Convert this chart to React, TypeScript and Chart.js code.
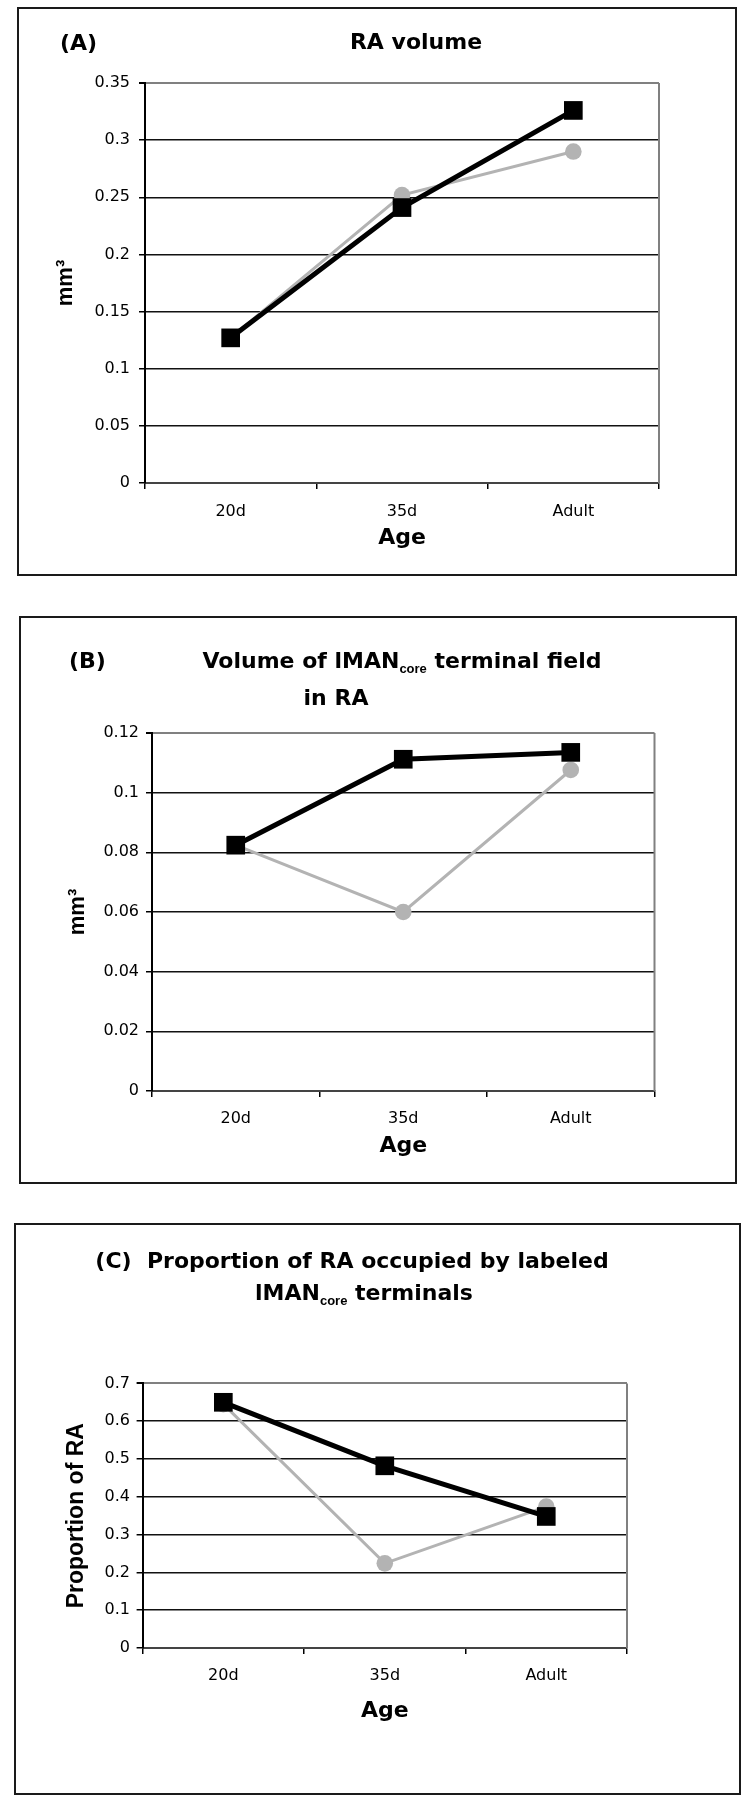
import React, { useEffect, useRef } from "react";
import { Chart, registerables } from "chart.js";

Chart.register(...registerables);

// ---------------- data ----------------
const ageCategories = ["20d", "35d", "Adult"];

const raVolumeBlack = [0.127, 0.241, 0.326];
const raVolumeGrey = [0.127, 0.252, 0.29];
const raVolumeTicks = [0, 0.05, 0.1, 0.15, 0.2, 0.25, 0.3, 0.35];
const raVolumeTickLabels = ["0", "0.05", "0.1", "0.15", "0.2", "0.25", "0.3", "0.35"];

const fieldVolumeBlack = [0.0824, 0.1112, 0.1135];
const fieldVolumeGrey = [0.0824, 0.06, 0.1076];
const fieldVolumeTicks = [0, 0.02, 0.04, 0.06, 0.08, 0.1, 0.12];
const fieldVolumeTickLabels = ["0", "0.02", "0.04", "0.06", "0.08", "0.1", "0.12"];

const proportionBlack = [0.65, 0.482, 0.348];
const proportionGrey = [0.645, 0.224, 0.374];
const proportionTicks = [0, 0.1, 0.2, 0.3, 0.4, 0.5, 0.6, 0.7];
const proportionTickLabels = ["0", "0.1", "0.2", "0.3", "0.4", "0.5", "0.6", "0.7"];

// ---------------- styling ----------------
const SANS = "'DejaVu Sans', 'Liberation Sans', sans-serif";
const ARIAL = "'Liberation Sans', Arial, sans-serif";
const BLACK = "#000000";
const GREY = "#b3b3b3";
const FRAME_GREY = "#808080";

const plotFramePlugin = {
  id: "plotFrame",
  beforeDatasetsDraw(chart: any) {
    const { ctx, chartArea: a } = chart;
    ctx.save();
    ctx.strokeStyle = FRAME_GREY;
    ctx.lineWidth = 2;
    ctx.beginPath();
    ctx.moveTo(a.right, a.top);
    ctx.lineTo(a.right, a.bottom);
    ctx.stroke();
    ctx.restore();
  },
};

type TitleLine = { text: React.ReactNode; x: number; y: number; align: "left" | "center" };

type PanelSpec = {
  box: { left: number; top: number; width: number; height: number };
  plot: { left: number; top: number; right: number; bottom: number };
  yTickPad: number;
  yTitleCenterX: number;
  yTitle: string;
  yTitleSize: number;
  xTickCenterY: number;
  ageCenterY: number;
  blackValues: number[];
  greyValues: number[];
  ticks: number[];
  tickLabels: string[];
  titles: TitleLine[];
};

function Panel({ spec }: { spec: PanelSpec }) {
  const ref = useRef<HTMLCanvasElement>(null);
  const { box, plot } = spec;

  useEffect(() => {
    const canvas = ref.current;
    if (!canvas) return;
    const cl = plot.left - box.left;
    const cr = plot.right - box.left;
    const ct = plot.top - box.top;
    const cb = plot.bottom - box.top;
    const yWidth = cl;
    const xHeight = box.height - cb;
    const tickLen = 6;
    const tickFontSize = 16;
    const tickLH = tickFontSize * 1.2;
    const xTickPad = spec.xTickCenterY - box.top - cb - tickLen - tickLH / 2;
    const ageLH = 22 * 1.2;
    const agePadBottom = box.height - ageLH / 2 - (spec.ageCenterY - box.top);
    const yTitleLH = spec.yTitleSize * 1.2;
    const yTitlePadTop = spec.yTitleCenterX - box.left - yTitleLH / 2;
    const yMax = spec.ticks[spec.ticks.length - 1];

    const chart = new Chart(canvas, {
      type: "line",
      data: {
        labels: ageCategories,
        datasets: [
          {
            data: spec.blackValues,
            borderColor: BLACK,
            backgroundColor: BLACK,
            borderWidth: 5,
            pointStyle: "rect",
            pointRadius: 13.2,
            pointBorderWidth: 0,
            pointBackgroundColor: BLACK,
            fill: false,
            tension: 0,
            clip: false as any,
          },
          {
            data: spec.greyValues,
            borderColor: GREY,
            backgroundColor: GREY,
            borderWidth: 3,
            pointStyle: "circle",
            pointRadius: 8.3,
            pointBorderWidth: 0,
            pointBackgroundColor: GREY,
            fill: false,
            tension: 0,
            clip: false as any,
          },
        ],
      },
      options: {
        responsive: false,
        animation: false,
        events: [],
        layout: { padding: { left: 0, top: ct, right: box.width - cr, bottom: 0 } },
        plugins: {
          legend: { display: false },
          tooltip: { enabled: false },
          title: { display: false },
        },
        scales: {
          x: {
            type: "category",
            offset: true,
            grid: {
              offset: true,
              drawOnChartArea: false,
              drawTicks: true,
              tickLength: tickLen,
              color: BLACK,
              lineWidth: 1.5,
            },
            border: { display: true, color: "#444444", width: 2 },
            ticks: {
              padding: xTickPad,
              color: BLACK,
              font: { family: SANS, size: tickFontSize },
              maxRotation: 0,
            },
            title: {
              display: true,
              text: "Age",
              color: BLACK,
              font: { family: SANS, size: 22, weight: "bold" },
              padding: { top: 0, bottom: agePadBottom },
            },
            afterFit: (s: any) => {
              s.height = xHeight;
            },
          },
          y: {
            type: "linear",
            min: 0,
            max: yMax,
            afterBuildTicks: (s: any) => {
              s.ticks = spec.ticks.map((v) => ({ value: v }));
            },
            ticks: {
              padding: spec.yTickPad,
              color: BLACK,
              font: { family: SANS, size: tickFontSize },
              callback: (v: any) => {
                const i = spec.ticks.indexOf(Number(v));
                return i >= 0 ? spec.tickLabels[i] : String(v);
              },
            },
            grid: {
              drawTicks: true,
              tickLength: tickLen,
              tickColor: BLACK,
              color: (c: any) => (c.tick && c.tick.value === yMax ? FRAME_GREY : "#111111"),
              lineWidth: (c: any) => (c.tick && c.tick.value === yMax ? 2 : 1.5),
            },
            border: { display: true, color: BLACK, width: 2 },
            title: {
              display: true,
              text: spec.yTitle,
              color: BLACK,
              font: { family: ARIAL, size: spec.yTitleSize, weight: "bold" },
              padding: { top: yTitlePadTop, bottom: 0 },
            },
            afterFit: (s: any) => {
              s.width = yWidth;
            },
          },
        },
      } as any,
      plugins: [plotFramePlugin],
    });
    return () => chart.destroy();
  }, []);

  return (
    <>
      <canvas
        ref={ref}
        width={box.width}
        height={box.height}
        style={{ position: "absolute", left: box.left, top: box.top, width: box.width, height: box.height }}
      />
      <div
        style={{
          position: "absolute",
          left: box.left,
          top: box.top,
          width: box.width,
          height: box.height,
          border: "2px solid #1a1a1a",
          boxSizing: "border-box",
          pointerEvents: "none",
        }}
      />
      {spec.titles.map((t, i) => (
        <div
          key={i}
          style={{
            position: "absolute",
            left: t.x,
            top: t.y,
            transform: t.align === "center" ? "translate(-50%, -50%)" : "translate(0, -50%)",
            fontFamily: SANS,
            fontWeight: "bold",
            fontSize: 22,
            lineHeight: 1,
            whiteSpace: "pre",
            color: BLACK,
          }}
        >
          {t.text}
        </div>
      ))}
    </>
  );
}

const Sub = ({ children }: { children: React.ReactNode }) => (
  <span style={{ fontFamily: ARIAL, fontSize: 13, position: "relative", top: 5 }}>{children}</span>
);

const panels: PanelSpec[] = [
  {
    box: { left: 17, top: 7, width: 720, height: 569 },
    plot: { left: 145, top: 83, right: 659, bottom: 483 },
    yTickPad: 9,
    yTitleCenterX: 66.4,
    yTitle: "mm³",
    yTitleSize: 22,
    xTickCenterY: 512,
    ageCenterY: 538,
    blackValues: raVolumeBlack,
    greyValues: raVolumeGrey,
    ticks: raVolumeTicks,
    tickLabels: raVolumeTickLabels,
    titles: [
      { text: "(A)", x: 60, y: 42.5, align: "left" },
      { text: "RA volume", x: 416, y: 42, align: "center" },
    ],
  },
  {
    box: { left: 19, top: 616, width: 718, height: 568 },
    plot: { left: 152, top: 733, right: 654.5, bottom: 1091 },
    yTickPad: 7,
    yTitleCenterX: 78.4,
    yTitle: "mm³",
    yTitleSize: 22,
    xTickCenterY: 1118.6,
    ageCenterY: 1146,
    blackValues: fieldVolumeBlack,
    greyValues: fieldVolumeGrey,
    ticks: fieldVolumeTicks,
    tickLabels: fieldVolumeTickLabels,
    titles: [
      { text: "(B)", x: 69, y: 661, align: "left" },
      {
        text: (
          <>
            Volume of lMAN<Sub>core</Sub> terminal field
          </>
        ),
        x: 402,
        y: 661,
        align: "center",
      },
      { text: "in RA", x: 336, y: 698, align: "center" },
    ],
  },
  {
    box: { left: 14, top: 1223, width: 727, height: 572 },
    plot: { left: 142.6, top: 1383.4, right: 627, bottom: 1648 },
    yTickPad: 6.6,
    yTitleCenterX: 76.5,
    yTitle: "Proportion of RA",
    yTitleSize: 23,
    xTickCenterY: 1675.6,
    ageCenterY: 1711,
    blackValues: proportionBlack,
    greyValues: proportionGrey,
    ticks: proportionTicks,
    tickLabels: proportionTickLabels,
    titles: [
      { text: "(C)  Proportion of RA occupied by labeled", x: 352, y: 1261, align: "center" },
      {
        text: (
          <>
            lMAN<Sub>core</Sub> terminals
          </>
        ),
        x: 364,
        y: 1293,
        align: "center",
      },
    ],
  },
];

export default function App() {
  return (
    <div style={{ position: "absolute", left: 0, top: 0, width: 750, height: 1800, background: "#ffffff" }}>
      {panels.map((p, i) => (
        <Panel key={i} spec={p} />
      ))}
    </div>
  );
}
